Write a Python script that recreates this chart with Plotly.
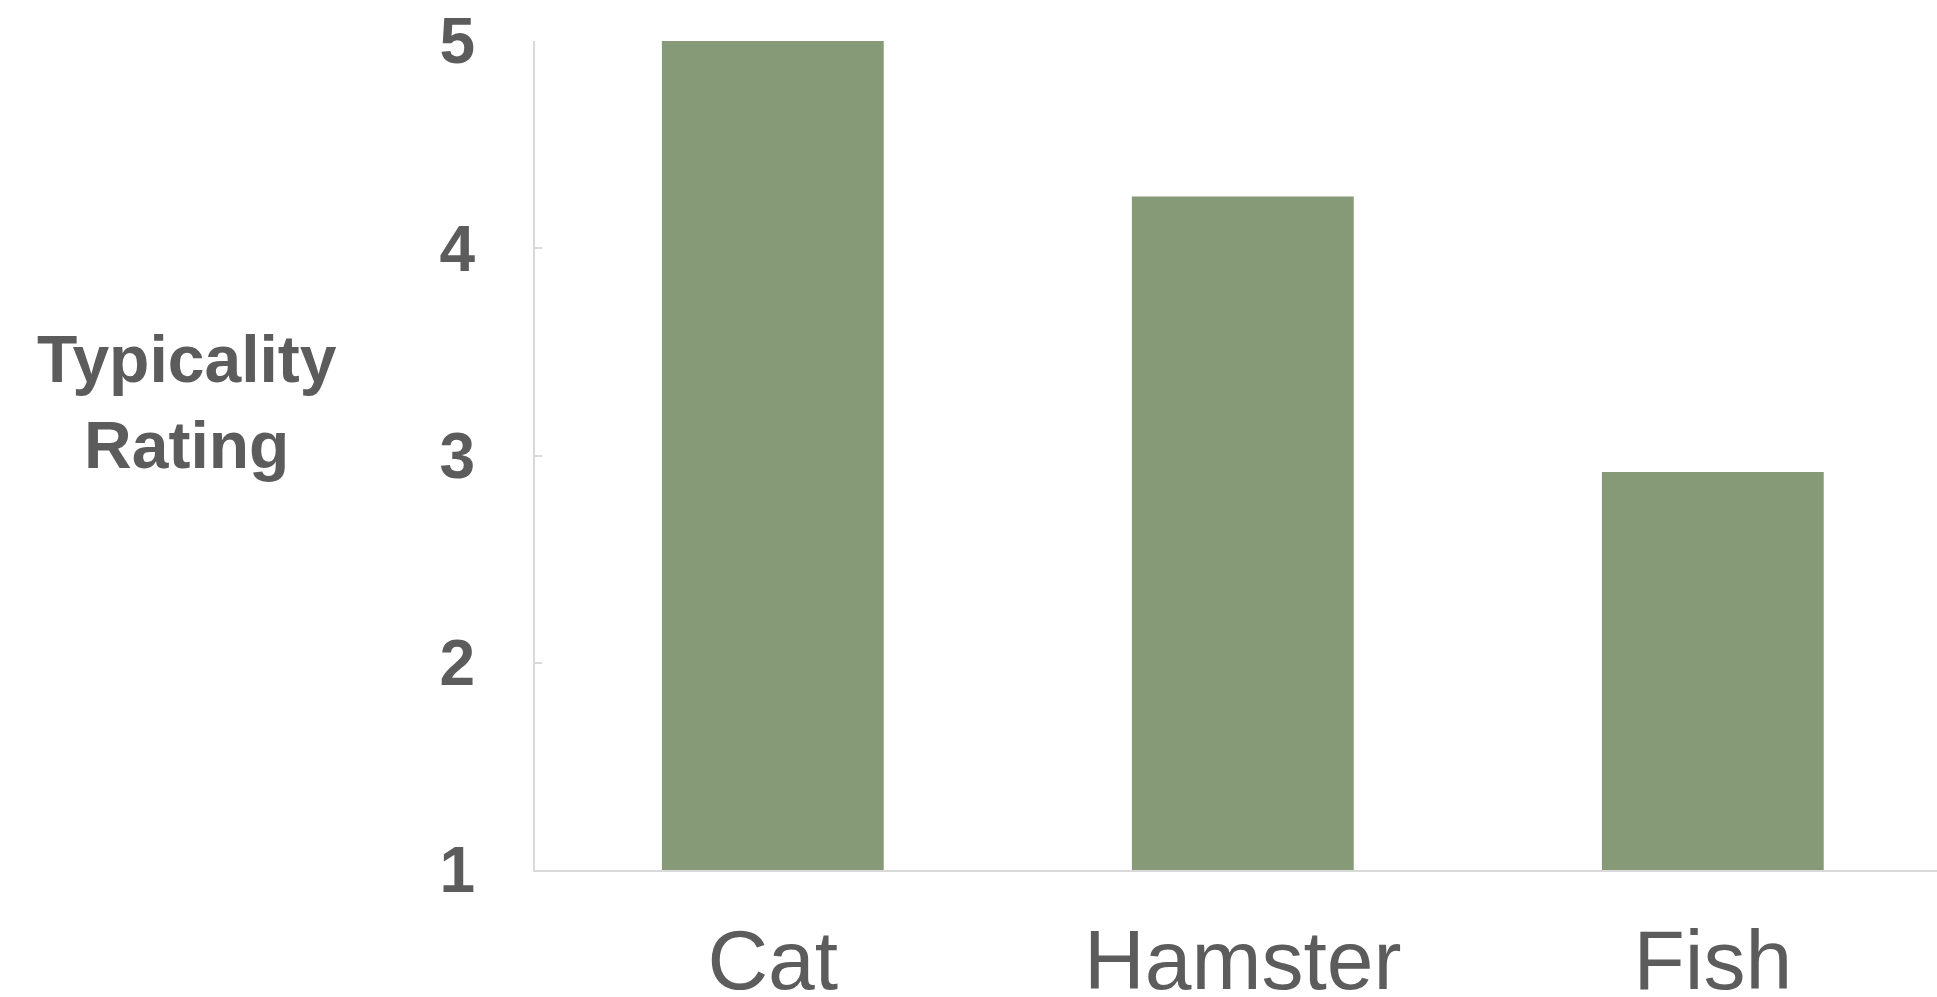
import plotly.graph_objects as go

# Typicality ratings for three pets
categories = ["Cat", "Hamster", "Fish"]
ratings = [5.0, 4.25, 2.92]
y_ticks = [1, 2, 3, 4, 5]

TEXT = "#5c5c5c"
AXIS = "#d9d9d9"
BAR = "#879a78"
FONT = "Liberation Sans"

fig = go.Figure(
    go.Bar(
        x=categories,
        y=ratings,
        marker=dict(color=BAR, line=dict(width=0)),
        width=0.472,
    )
)

fig.update_layout(
    width=1937,
    height=997,
    margin=dict(l=535, r=0, t=41, b=127, autoexpand=False),
    paper_bgcolor="white",
    plot_bgcolor="white",
    showlegend=False,
    font=dict(family=FONT, color=TEXT),
    xaxis=dict(
        type="category",
        range=[-0.506, 2.477],
        automargin=False,
        showgrid=False,
        showline=True,
        linecolor=AXIS,
        linewidth=2,
        ticks="",
        tickfont=dict(family=FONT, size=84, color=TEXT),
        ticklabelstandoff=16,
        zeroline=False,
    ),
    yaxis=dict(
        range=[1, 5],
        automargin=False,
        tickvals=y_ticks,
        ticktext=[str(v) for v in y_ticks],
        showgrid=False,
        showline=True,
        linecolor=AXIS,
        linewidth=2,
        ticks="inside",
        ticklen=7,
        tickwidth=2,
        tickcolor=AXIS,
        tickfont=dict(family=FONT, size=64, color=TEXT, weight="bold"),
        ticklabelstandoff=45,
        zeroline=False,
    ),
    annotations=[
        dict(
            text="Typicality<br>Rating",
            xref="paper",
            yref="paper",
            x=-0.2482,
            y=0.565,
            xanchor="center",
            yanchor="middle",
            showarrow=False,
            align="center",
            font=dict(family=FONT, size=66, color=TEXT, weight="bold"),
        )
    ],
)

fig.write_html("out.html")
